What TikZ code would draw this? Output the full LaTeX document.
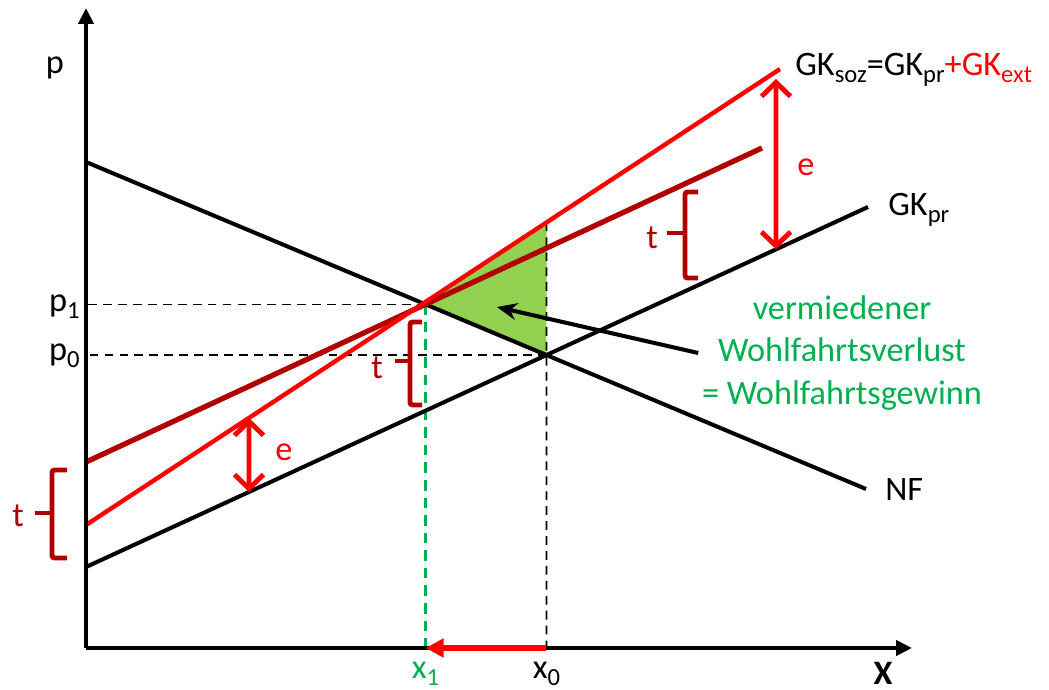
\documentclass[tikz,border=0pt]{standalone}
\usepackage{fontspec}
\setmainfont{Carlito}
\setsansfont{Carlito}
\usetikzlibrary{arrows.meta}
\definecolor{cred}{HTML}{FF0000}
\definecolor{cdark}{HTML}{B00000}
\definecolor{cgreen}{HTML}{00B050}
\definecolor{cfill}{HTML}{92D050}
\newcommand{\lowsub}[1]{\raisebox{-0.22em}{\fontsize{14}{14}\selectfont #1}}
\tikzset{
  every picture/.style={font=\fontsize{19.5}{24}\selectfont},
  axis/.style={-{Triangle[length=3.2mm, width=3mm]}, line width=2.4pt},
  curve/.style={line width=2.3pt, draw=#1},
  curve/.default=black,
  guide/.style={dash pattern=on 5pt off 3.5pt, line width=0.7pt},
  gguide/.style={draw=cgreen, dash pattern=on 6pt off 4pt, line width=1.3pt},
  earrow/.style={{Straight Barb[length=2.8mm, width=5.8mm]}-{Straight Barb[length=2.8mm, width=5.8mm]}, draw=cred, line width=2.8pt},
  tbrace/.style={draw=cdark, line width=2.8pt, rounded corners=1.5pt},
  pointer/.style={-{Stealth[length=4mm, width=3.4mm]}, line width=2.3pt},
  lab/.style={anchor=base, inner sep=0pt},
}
\begin{document}
\begin{tikzpicture}[x=0.02cm, y=-0.02cm]
  \useasboundingbox (0, 0) rectangle (1049, 690);
  \coordinate (O) at (86, 648); \coordinate (ytop) at (86, 8); \coordinate (xend) at (912, 648);
  \coordinate (nfA) at (86, 162); \coordinate (nfB) at (866, 489);
  \coordinate (gkA) at (86, 567); \coordinate (gkB) at (868, 207);
  \coordinate (sozA) at (86, 525); \coordinate (sozB) at (780, 69);
  \coordinate (taxA) at (86, 462); \coordinate (taxB) at (762, 148);
  \coordinate (E1) at (intersection of nfA--nfB and taxA--taxB);
  \coordinate (E0) at (intersection of nfA--nfB and gkA--gkB);
  \coordinate (x1) at (E1 |- O); \coordinate (x0) at (E0 |- O);
  \coordinate (T) at (intersection of sozA--sozB and E0--x0);
  \fill[cfill] (E1) -- (T) -- (E0) -- cycle;
  \draw[guide] (E1) -- (E1 -| O); \draw[guide] (E0) -- (E0 -| O); \draw[guide, line width=1pt] (T) -- (x0);
  \draw[gguide] (E1) -- (x1);
  \draw[curve] (nfA) -- (nfB); \draw[curve] (gkA) -- (gkB);
  \draw[curve=cdark, line width=3pt] (taxA) -- (taxB); \draw[curve=cred, line width=2.5pt] (sozA) -- (sozB);
  \draw[axis] (O) -- (ytop); \draw[axis] (O) -- (xend);
  \draw[-{Triangle[length=3.6mm, width=3.6mm]}, draw=cred, fill=cred, line width=3pt] (x0) -- (x1);
  \coordinate (eLu) at (249, 0); \coordinate (eLd) at (249, 690); \coordinate (eRu) at (776, 0); \coordinate (eRd) at (776, 690);
  \coordinate (eLa) at (intersection of sozA--sozB and eLu--eLd); \coordinate (eLb) at (intersection of gkA--gkB and eLu--eLd);
  \coordinate (eRa) at (776, 79); \coordinate (eRb) at (intersection of gkA--gkB and eRu--eRd);
  \draw[earrow] (eLa) -- (eLb); \draw[earrow] (eRa) -- (eRb);
  \node[lab, text=cred] (eL) at (284, 460) {e}; \node[lab, text=cred] (eR) at (806, 175) {e};
  \draw[tbrace] (67, 470) -- (52, 470) -- (52, 558) -- (67, 558); \draw[tbrace] (35, 513) -- (52, 513);
  \draw[tbrace] (422, 322) -- (410, 322) -- (410, 405) -- (422, 405); \draw[tbrace] (395, 361) -- (410, 361);
  \draw[tbrace] (698, 192) -- (685, 192) -- (685, 278) -- (698, 278); \draw[tbrace] (667, 233) -- (685, 233);
  \node[lab, text=cdark] (tL) at (18, 526) {t}; \node[lab, text=cdark] (tM) at (377, 378) {t}; \node[lab, text=cdark] (tR) at (652, 248) {t};
  \node[lab] (plab) at (55, 73) {p};
  \node[lab, anchor=base east] (p1) at (80, 311) {p\lowsub{1}}; \node[lab, anchor=base east] (p0) at (80, 360) {p\lowsub{0}};
  \node[lab, text=cgreen] (x1lab) at (E1 |- 0, 678) {x\lowsub{1}}; \node[lab] (x0lab) at (E0 |- 0, 678) {x\lowsub{0}};
  \node[lab] (Xlab) at (883, 684) {\textbf{X}};
  \node[lab, anchor=base west] (soz) at (795, 75) {GK\lowsub{soz}=GK\lowsub{pr}\textcolor{cred}{+GK\lowsub{ext}}};
  \node[lab, anchor=base west] (gkpr) at (888, 215) {GK\lowsub{pr}};
  \node[lab, anchor=base west] (nf) at (885, 500) {NF};
  \node[text=cgreen, align=center, inner sep=2pt] (gain) at (842, 353) {vermiedener\\Wohlfahrtsverlust\\= Wohlfahrtsgewinn};
  \coordinate (tri) at (497, 307);
  \draw[pointer] (gain.west) -- (tri);
\end{tikzpicture}
\end{document}
